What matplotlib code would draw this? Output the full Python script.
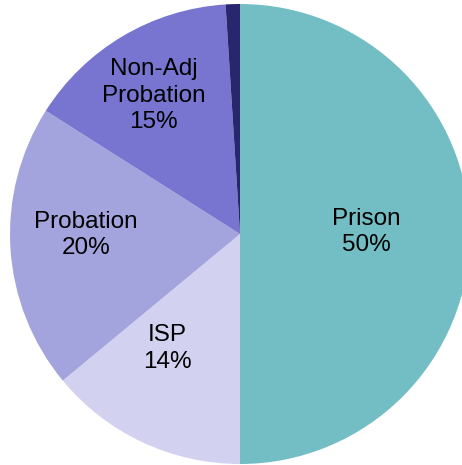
import matplotlib.pyplot as plt
import numpy as np

# slice data, clockwise from the top
labels = ["Prison", "ISP", "Probation", "Non-Adj\nProbation", ""]
shares = [50, 14, 20, 15, 1]
colors = ["#72BEC4", "#D2D2F0", "#A3A3DE", "#7775CF", "#28276E"]
# label placement: (distance from center, angle in degrees)
label_pos = [(0.55, 1.0), (0.59, -122.4), (0.67, 180.5), (0.71, 122.0), None]

plt.rcParams["font.family"] = ["Liberation Sans", "DejaVu Sans"]

fig = plt.figure(figsize=(4.62, 4.65), dpi=100)
ax = fig.add_axes([0, 0, 1, 1])

wedges, texts = ax.pie(shares, colors=colors, startangle=90, counterclock=False,
                       radius=1.0, wedgeprops=dict(linewidth=0))

for t, lab, s, p in zip(texts, labels, shares, label_pos):
    t.set_visible(False)
    if p is None:
        continue
    d, a = p
    a = np.deg2rad(a)
    ax.text(d * np.cos(a), d * np.sin(a), f"{lab}\n{s}%", ha="center", va="center",
            fontsize=17.5, color="black", linespacing=1.25)

# pie center near (240, 234) px, radius ~230 px
r = 230.0
ax.set_xlim(-240 / r, 222 / r)
ax.set_ylim(-231 / r, 234 / r)
ax.set_aspect("auto")
ax.axis("off")

fig.savefig("out.png", dpi=100)
